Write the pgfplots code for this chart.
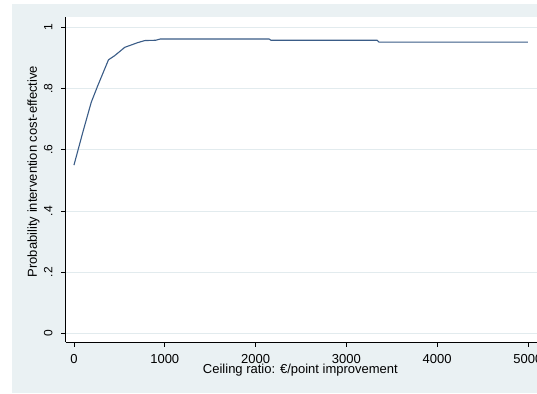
\documentclass[border=0pt]{standalone}
\usepackage{fontspec}
\setmainfont{Liberation Sans}
\usepackage{pgfplots}
\pgfplotsset{compat=1.18}
\definecolor{bgc}{RGB}{234,241,243}
\definecolor{gridc}{RGB}{226,235,238}
\definecolor{linec}{RGB}{58,92,135}
\begin{document}
\begin{tikzpicture}
\path[use as bounding box] (0,0) rectangle (537pt,393pt);
\fill[bgc] (12pt,0) rectangle (537pt,389pt);
\begin{axis}[
  at={(65.7pt,51pt)}, anchor=south west,
  scale only axis, width=471.3pt, height=325pt,
  xmin=-91, xmax=5100, ymin=-0.028, ymax=1.034,
  axis background/.style={fill=white},
  axis x line*=bottom, axis y line*=left,
  axis line style={black, line width=0.9pt},
  xtick={0,1000,2000,3000,4000,5000},
  xticklabels={0,1000,2000,3000,4000,5000},
  ytick={0,0.2,0.4,0.6,0.8,1},
  yticklabels={0,.2,.4,.6,.8,1},
  tick align=outside, major tick length=4.5pt,
  tick style={black, line width=0.7pt},
  ymajorgrids, grid style={gridc, line width=0.8pt},
  xticklabel style={font=\fontsize{13}{15}\selectfont, anchor=base, yshift=-17pt},
  yticklabel style={font=\fontsize{12}{14}\selectfont, rotate=90, anchor=base, yshift=8.9pt},
  xlabel={Ceiling ratio: €/point improvement},
  xlabel style={font=\fontsize{13}{15}\selectfont, at={(axis description cs:0.498,-0.0963)}, anchor=base},
  ylabel={Probability intervention cost-effective},
  ylabel style={font=\fontsize{13}{15}\selectfont, at={(axis description cs:-0.0609,0.5246)}, anchor=base},
]
\addplot[linec, line width=1.1pt, mark=none] coordinates {
(0,0.550) (100,0.660) (190,0.755) (260,0.808) (380,0.894) (450,0.908)
(560,0.935) (635,0.943) (700,0.950) (780,0.957) (900,0.958) (950,0.962)
(2150,0.962) (2170,0.958) (3340,0.958) (3360,0.952) (5000,0.952)
};
\end{axis}
\end{tikzpicture}
\end{document}
